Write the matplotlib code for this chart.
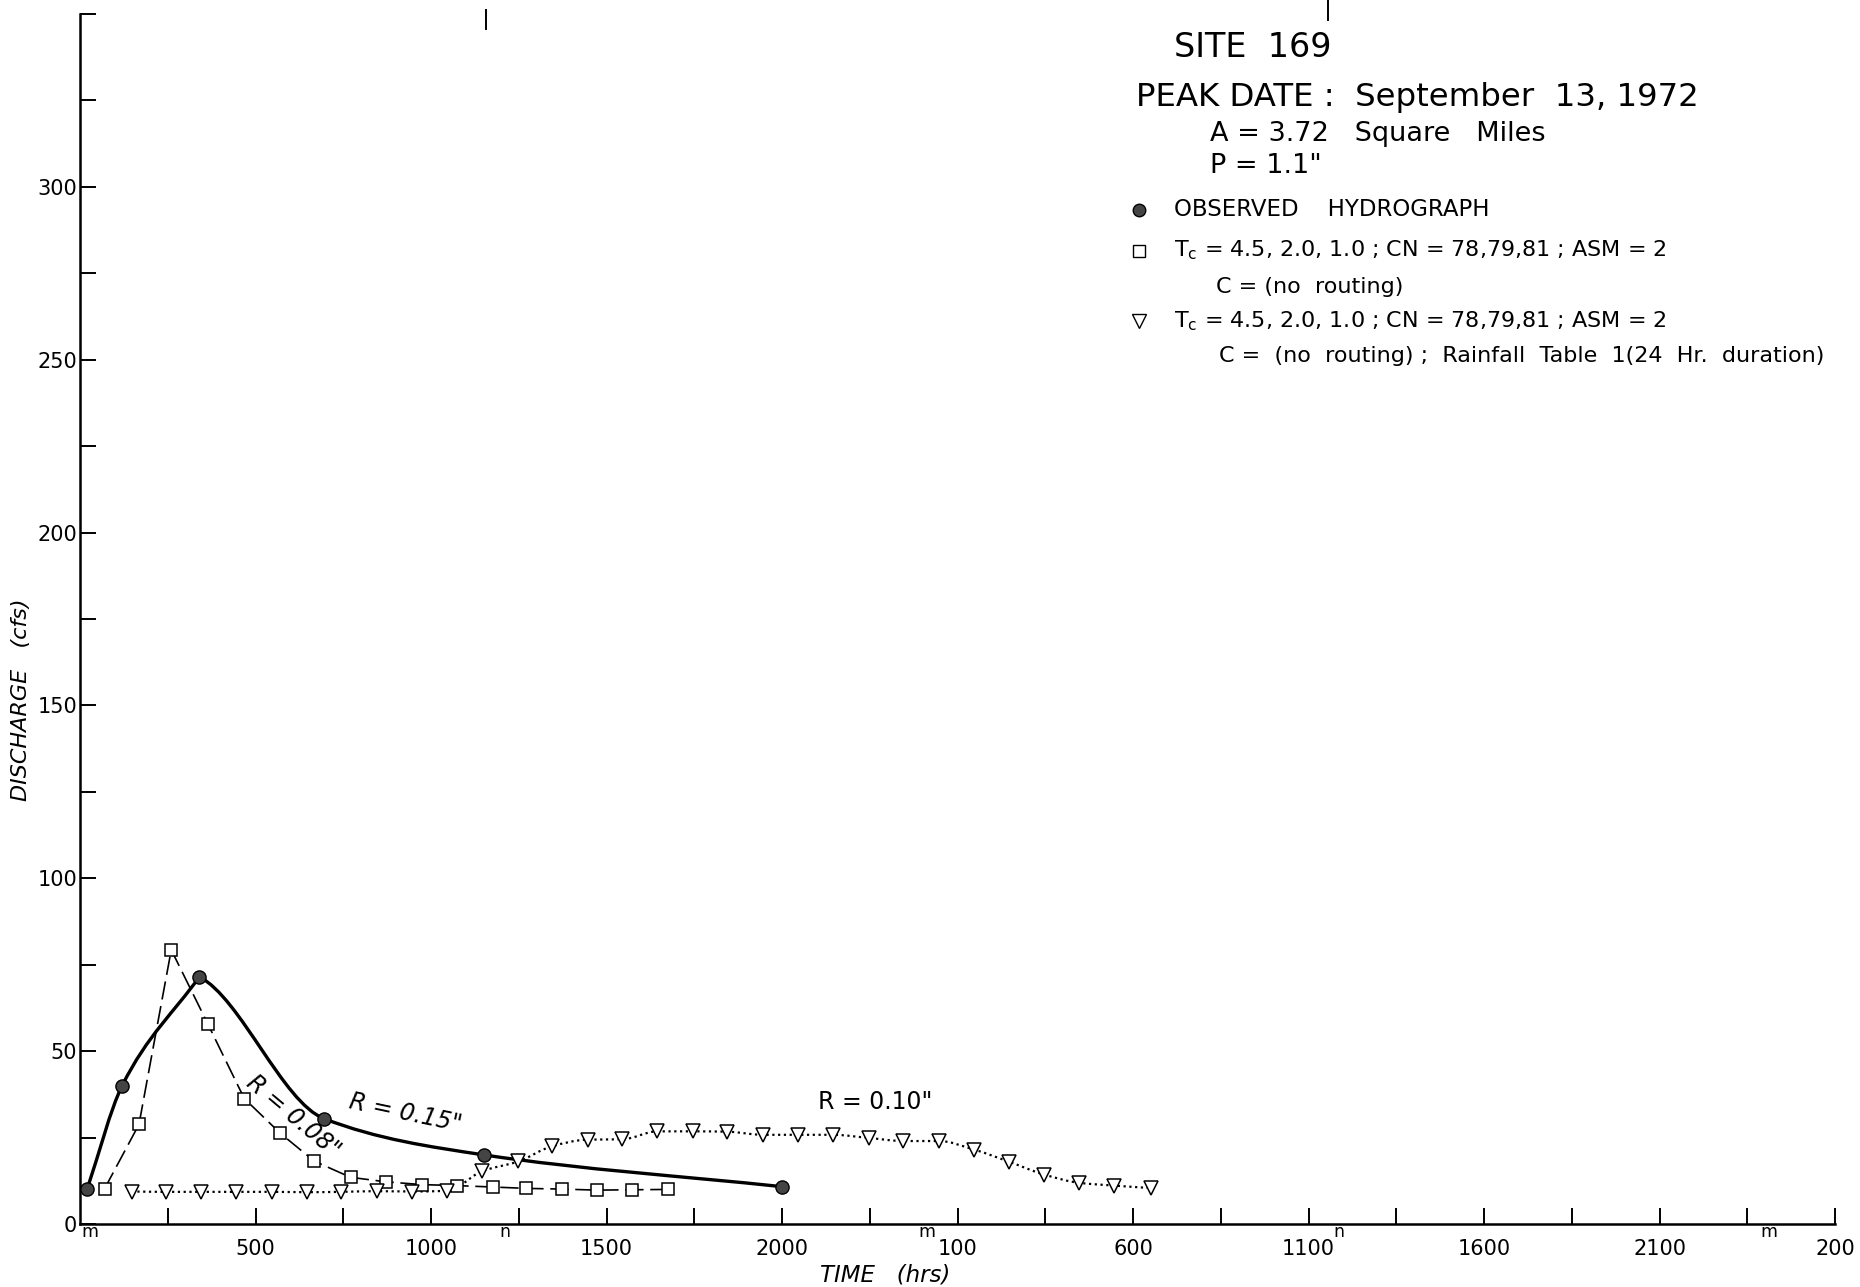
import numpy as np
import matplotlib
matplotlib.use("Agg")
import matplotlib.pyplot as plt
from matplotlib.path import Path
from matplotlib.patches import PathPatch
from matplotlib.lines import Line2D

# ---------------- data (hours after midnight, discharge cfs) ----------------
obs_hours = [0.2, 1.2, 3.4, 6.95, 11.5, 20.0]
obs_cfs = [10.0, 40.0, 71.5, 30.5, 20.0, 10.8]

sq_hours = [0.7, 1.68, 2.6, 3.64, 4.68, 5.7, 6.67, 7.71, 8.72, 9.73, 10.75,
            11.76, 12.72, 13.72, 14.73, 15.74, 16.75]
sq_cfs = [10.2, 28.8, 79.3, 57.9, 36.3, 26.3, 18.2, 13.5, 12.2, 11.4, 11.1,
          10.7, 10.3, 10.1, 9.8, 9.9, 10.0]

tri_hours = [1.47, 2.46, 3.46, 4.45, 5.46, 6.48, 7.45, 8.45, 9.45, 10.47,
             11.46, 12.49, 13.45, 14.46, 15.45, 16.45, 17.47, 18.44, 19.46,
             20.45, 21.45, 22.47, 23.46, 24.47, 25.48, 26.47, 27.47, 28.47,
             29.47, 30.5]
tri_cfs = [9.4, 9.3, 9.3, 9.3, 9.3, 9.2, 9.3, 9.5, 9.4, 9.6,
           15.3, 18.1, 22.5, 24.4, 24.5, 26.8, 26.8, 26.7, 25.8,
           25.8, 25.8, 24.9, 24.0, 24.0, 21.5, 18.0, 14.3, 11.9,
           11.1, 10.4]

x_label_hours = [5, 10, 15, 20, 25, 30, 35, 40, 45, 50]
x_label_text = ["500", "1000", "1500", "2000", "100", "600", "1100",
                "1600", "2100", "200"]
y_label_values = [0, 50, 100, 150, 200, 250, 300]

# midnight / noon markers on the time axis
mn_hours = [0.15, 12.0, 24.0, 35.75, 48.0]
mn_text = ["m", "n", "m", "n", "m"]

# ---------------- figure ----------------
W, H = 1860, 1287
fig = plt.figure(figsize=(W / 100, H / 100), dpi=100)
plt.rcParams['font.family'] = ['DejaVu Sans']


def fx(px):
    return px / W


def fy(py):
    return 1 - py / H


left, right, bottom, top = 80, 1835, 1224, 14
ax = fig.add_axes([fx(left), fy(bottom), (right - left) / W, (bottom - top) / H])
ax.set_xlim(0, 50)
ax.set_ylim(0, 350)
for s in ("top", "right"):
    ax.spines[s].set_visible(False)
for s in ("left", "bottom"):
    ax.spines[s].set_linewidth(1.8)

# x ticks every 2.5 h, labels every 5 h (clock time)
xt = np.arange(2.5, 50.01, 2.5)
lab_map = dict(zip(x_label_hours, x_label_text))
ax.set_xticks(xt)
ax.set_xticklabels([lab_map.get(int(v), "") if float(v).is_integer() else "" for v in xt])
yt = np.arange(0, 351, 25)
ax.set_yticks(yt)
ax.set_yticklabels([str(int(v)) if int(v) in y_label_values else "" for v in yt])
ax.tick_params(axis="x", direction="in", length=11.5, width=1.4, pad=11, labelsize=15)
ax.tick_params(axis="y", direction="in", length=11.5, width=1.4, pad=2, labelsize=15)


def smooth_path(xs, ys, corner_peaks=False):
    """Monotone (PCHIP-style) cubic through the points, drawn as Bezier curves."""
    x = np.asarray(xs, float)
    y = np.asarray(ys, float)
    n = len(x)
    h = np.diff(x)
    d = np.diff(y) / h
    m_in = np.zeros(n)
    m_out = np.zeros(n)
    for k in range(1, n - 1):
        if d[k - 1] * d[k] > 0:
            w1 = 2 * h[k] + h[k - 1]
            w2 = h[k] + 2 * h[k - 1]
            m = (w1 + w2) / (w1 / d[k - 1] + w2 / d[k])
            m_in[k] = m_out[k] = m
        elif corner_peaks:
            m_in[k] = d[k - 1]
            m_out[k] = 0.45 * d[k]
    # end points follow the end chords
    m_out[0] = d[0]
    m_in[-1] = d[-1]
    verts = [(x[0], y[0])]
    codes = [Path.MOVETO]
    for i in range(n - 1):
        hh = h[i] / 3.0
        verts += [(x[i] + hh, y[i] + m_out[i] * hh),
                  (x[i + 1] - hh, y[i + 1] - m_in[i + 1] * hh),
                  (x[i + 1], y[i + 1])]
        codes += [Path.CURVE4] * 3
    return Path(verts, codes)


# observed hydrograph: smooth heavy line through filled circles
ax.add_patch(PathPatch(smooth_path(obs_hours, obs_cfs, corner_peaks=True), fill=False,
                       lw=2.4, edgecolor="black", zorder=3))
ax.plot(obs_hours, obs_cfs, linestyle="none", marker="o", markersize=9.5,
        markerfacecolor="#444444", markeredgecolor="black", markeredgewidth=1.0,
        zorder=5, clip_on=False)

# computed (squares): long-dashed line
ax.plot(sq_hours, sq_cfs, linestyle=(0, (11, 4)), lw=1.2, color="black",
        marker="s", markersize=8.3, markerfacecolor="white",
        markeredgecolor="black", markeredgewidth=1.1, zorder=4)

# computed (triangles): dotted line
ax.add_patch(PathPatch(smooth_path(tri_hours, tri_cfs), fill=False,
                       lw=1.6, edgecolor="black", linestyle=(0, (1.0, 1.6)), zorder=3))
ax.plot(tri_hours, tri_cfs, linestyle="none", marker="v", markersize=10.5,
        markerfacecolor="white", markeredgecolor="black", markeredgewidth=1.1, zorder=4)

# midnight / noon letters
for hr, t in zip(mn_hours, mn_text):
    ax.annotate(t, xy=(hr, 0), xytext=(3, -9.5), textcoords="offset points",
                ha="center", va="baseline", fontsize=12.5, annotation_clip=False)

# rainfall-excess annotations
ax.text(9.26, 32.1, 'R = 0.15"', rotation=-12, ha="center", va="center",
        fontsize=17, style="italic")
ax.text(6.07, 31.0, 'R = 0.08"', rotation=-40, ha="center", va="center",
        fontsize=17, style="italic")
ax.text(22.65, 35.3, 'R = 0.10"', rotation=0, ha="center", va="center",
        fontsize=17)

# axis titles
fig.text(fx(21), fy(700), "DISCHARGE   (cfs)", rotation=90, style="italic",
         fontsize=16, ha="center", va="center")
fig.text(fx(885), fy(1275), "TIME   (hrs)", style="italic", fontsize=16.5,
         ha="center", va="center")

# header text
fig.text(fx(1174), fy(57), "SITE  169", fontsize=24, ha="left", va="baseline")
fig.text(fx(1136), fy(106), "PEAK DATE :  September  13, 1972", fontsize=23.3,
         ha="left", va="baseline")
fig.text(fx(1210), fy(141), "A = 3.72   Square   Miles", fontsize=19.5,
         ha="left", va="baseline")
fig.text(fx(1210), fy(173), 'P = 1.1"', fontsize=19.5, ha="left", va="baseline")

# legend
fig.add_artist(Line2D([fx(1139)], [fy(210)], marker="o", markersize=9,
                      markerfacecolor="#444444", markeredgecolor="black",
                      linestyle="none"))
fig.text(fx(1174), fy(210), "OBSERVED    HYDROGRAPH", fontsize=16.5,
         ha="left", va="center")
fig.add_artist(Line2D([fx(1139)], [fy(251)], marker="s", markersize=8.5,
                      markerfacecolor="white", markeredgecolor="black",
                      linestyle="none"))
fig.text(fx(1174), fy(250), r"T$_\mathregular{c}$ = 4.5, 2.0, 1.0 ; CN = 78,79,81 ; ASM = 2",
         fontsize=16, ha="left", va="center")
fig.text(fx(1216), fy(287), "C = (no  routing)", fontsize=16, ha="left", va="center")
fig.add_artist(Line2D([fx(1139)], [fy(321)], marker="v", markersize=10,
                      markerfacecolor="white", markeredgecolor="black",
                      linestyle="none"))
fig.text(fx(1174), fy(321), r"T$_\mathregular{c}$ = 4.5, 2.0, 1.0 ; CN = 78,79,81 ; ASM = 2",
         fontsize=16, ha="left", va="center")
fig.text(fx(1219), fy(356), "C =  (no  routing) ;  Rainfall  Table  1(24  Hr.  duration)",
         fontsize=16, ha="left", va="center")

# stray tick marks at the top edge of the sheet
fig.add_artist(Line2D([fx(486), fx(486)], [fy(10), fy(29)], color="black", lw=1.4))
fig.add_artist(Line2D([fx(1328), fx(1328)], [fy(0), fy(20)], color="black", lw=1.4))

fig.savefig("out.png", dpi=100)
